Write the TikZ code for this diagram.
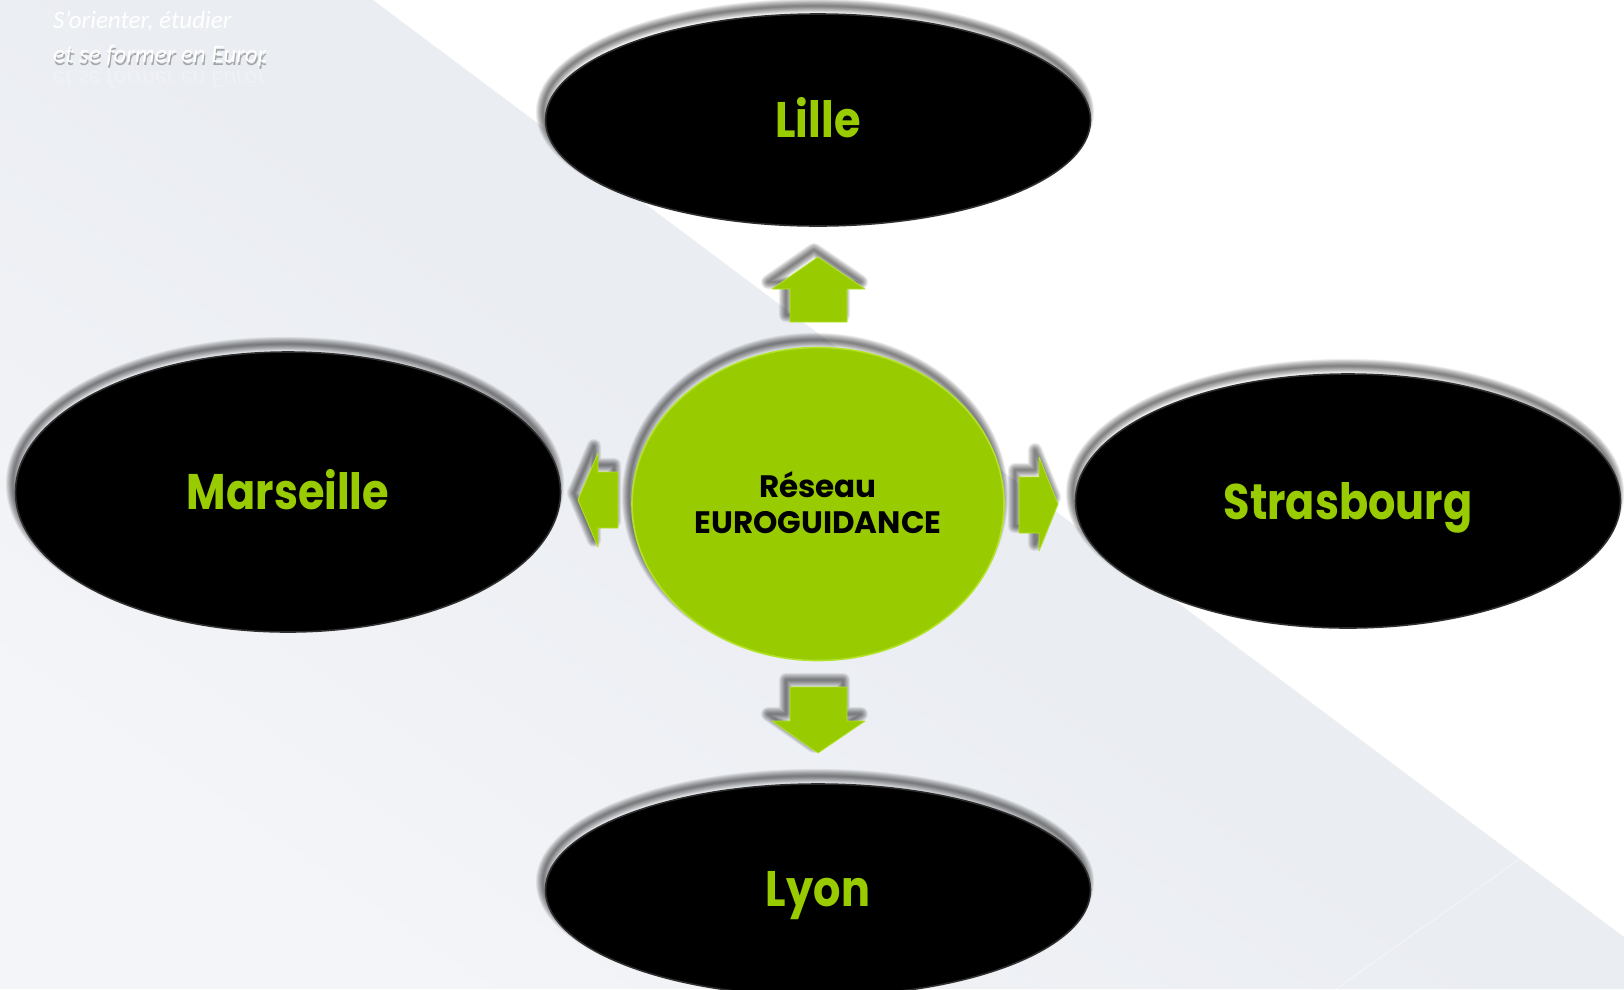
\documentclass[tikz,border=0pt]{standalone}
\usepackage{fontspec}
\setmainfont{Poppins}
\newfontfamily\cityfont{Poppins}[FakeStretch=0.86]
\newfontfamily\capfont{Carlito}
\usetikzlibrary{shapes.geometric,calc}
\definecolor{egreen}{HTML}{99CC00}
\definecolor{erim}{HTML}{B2E32A}
\definecolor{bggrey}{HTML}{EAEDF2}
\definecolor{bglight}{HTML}{F4F5F8}
\newcommand{\softshade}[1]{%
  \foreach \k in {1,...,12} {\draw[black, opacity=0.05, line width=\k*1.2pt, line join=round] #1;}}
\begin{document}
\begin{tikzpicture}[x=1pt,y=-1pt,
  city/.style={ellipse, fill=black, draw=black!82, line width=1.6pt,
    minimum width=545pt, minimum height=212pt, inner sep=0pt},
  citytext/.style={anchor=base, text=egreen, inner sep=0pt,
    font=\cityfont\fontsize{50}{50}\selectfont\bfseries},
  hub/.style={ellipse, fill=egreen, draw=erim, line width=1.6pt,
    minimum width=372pt, minimum height=313pt, inner sep=0pt},
  hubtext/.style={anchor=base, text=black, inner sep=0pt,
    font=\fontsize{31}{31}\selectfont\bfseries},
  blockarrow/.style={fill=egreen, draw=erim, line width=0.8pt, line join=round},
  captext/.style={anchor=base west, inner sep=0pt,
    font=\capfont\itshape\fontsize{25}{25}\selectfont}]
\useasboundingbox (0,0) rectangle (1624,989);
\clip (0,0) rectangle (1624,989);
% background
\fill[white] (0,0) rectangle (1624,989);
\shade[top color=bggrey, bottom color=bglight, middle color=bggrey, shading angle=-35]
  (0,0) -- (373,0) -- (1624,937) -- (1624,989) -- (0,989) -- cycle;
\draw[white, opacity=0.5, line width=0.8pt] (1336,989) -- (1624,785);
% caption top-left
\begin{scope}
  \clip (0,0) rectangle (265,120);
  \node[captext, text=white] (cap1) at (53,28) {S’orienter, étudier};
  \node[captext, text=black, opacity=0.3] at (54,65) {et se former en Europe};
  \node[captext, text=white] (cap2) at (53,62) {et se former en Europe};
  \node[captext, text=white, opacity=0.25, yscale=-1, anchor=base west] at (53,71) {et se former en Europe};
\end{scope}
% shadows
\begin{scope}[shift={(-3,-8)}]
  \softshade{(818,120) ellipse [x radius=272, y radius=106]}
  \softshade{(288,492) ellipse [x radius=272, y radius=140]}
  \softshade{(1348,501) ellipse [x radius=272, y radius=127]}
  \softshade{(818,890) ellipse [x radius=272, y radius=106]}
  \softshade{(818,504) ellipse [x radius=186, y radius=156]}
\end{scope}
% nodes
\node[city] (lille) at (818,120) {};
\node[city, minimum height=280pt] (marseille) at (288,492) {};
\node[city, minimum height=254pt] (strasbourg) at (1348,501) {};
\node[city] (lyon) at (818,890) {};
\node[hub] (hub) at (818,504) {};
\node[citytext] (tlille) at ($(lille.center)+(0,17)$) {Lille};
\node[citytext] (tmarseille) at ($(marseille.center)+(0,17)$) {Marseille};
\node[citytext] (tstrasbourg) at ($(strasbourg.center)+(0,18)$) {Strasbourg};
\node[citytext] (tlyon) at ($(lyon.center)+(0,16)$) {Lyon};
\node[hubtext] (t1) at ($(hub.center)+(0,-7)$) {Réseau};
\node[hubtext] (t2) at ($(hub.center)+(0,29)$) {EUROGUIDANCE};
% block arrows
\def\arrup{(818,257) -- (865,289) -- (847,289) -- (847,322) -- (790,322) -- (790,289) -- (772,289) -- cycle}
\def\arrdown{(818,753) -- (865,721) -- (847,721) -- (847,687) -- (790,687) -- (790,721) -- (772,721) -- cycle}
\def\arrleft{(578,500) -- (598,453) -- (598,472) -- (618,472) -- (618,528) -- (598,528) -- (598,547) -- cycle}
\def\arrright{(1058,504) -- (1039,457) -- (1039,477) -- (1019,477) -- (1019,533) -- (1039,533) -- (1039,551) -- cycle}
\begin{scope}[shift={(-4,-7)}]
  \softshade{\arrup}
  \softshade{\arrdown}
  \softshade{\arrleft}
  \softshade{\arrright}
\end{scope}
\path[blockarrow] \arrup;
\path[blockarrow] \arrdown;
\path[blockarrow] \arrleft;
\path[blockarrow] \arrright;
\end{tikzpicture}
\end{document}
